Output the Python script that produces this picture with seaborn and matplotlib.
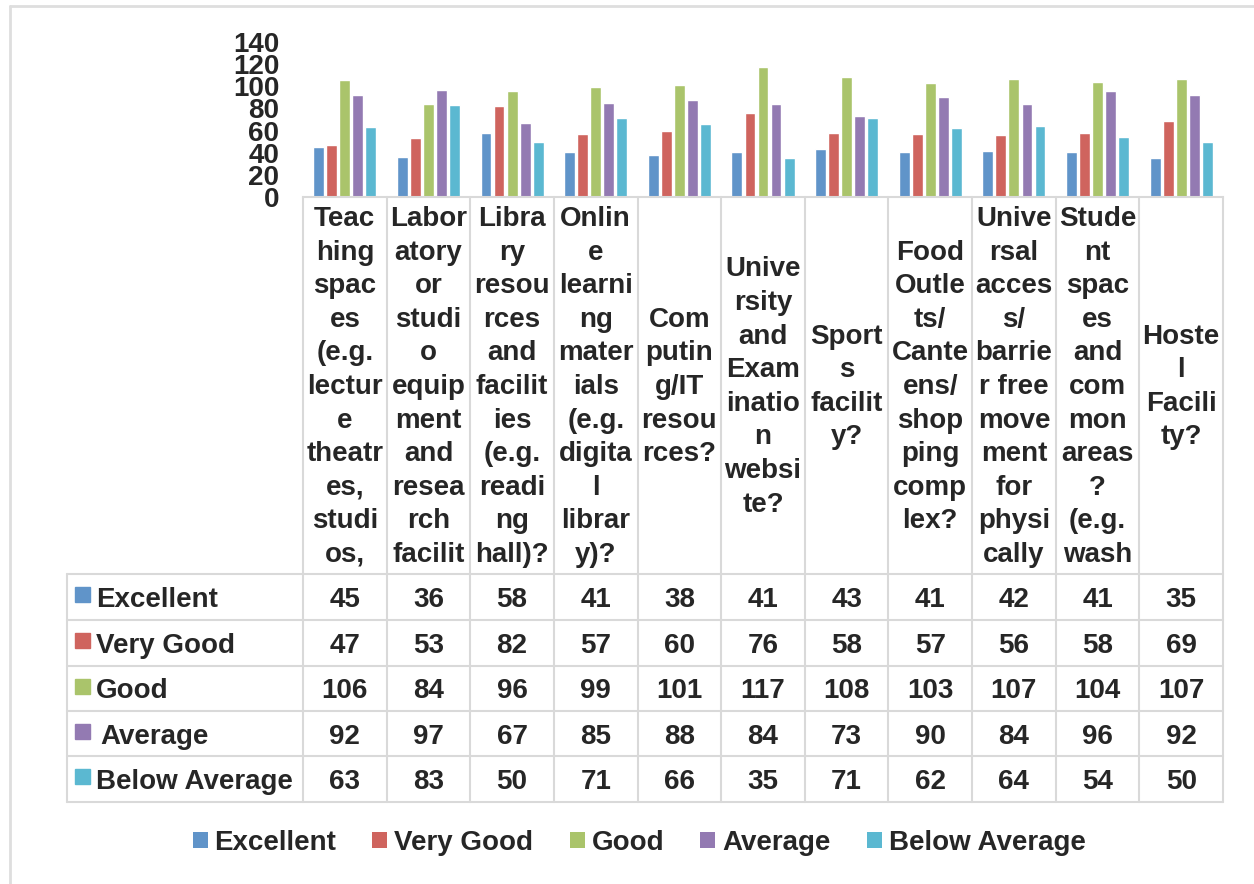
import matplotlib

matplotlib.use("Agg")
import matplotlib.pyplot as plt
import matplotlib.transforms as mtransforms
import pandas as pd
import seaborn as sns
from matplotlib.patches import Patch, Rectangle

# category labels, wrapped the way the spreadsheet wrapped them
facilities = [
    "Teac\nhing\nspac\nes\n(e.g.\nlectur\ne\ntheatr\nes,\nstudi\nos,",
    "Labor\natory\nor\nstudi\no\nequip\nment\nand\nresea\nrch\nfacilit",
    "Libra\nry\nresou\nrces\nand\nfacilit\nies\n(e.g.\nreadi\nng\nhall)?",
    "Onlin\ne\nlearni\nng\nmater\nials\n(e.g.\ndigita\nl\nlibrar\ny)?",
    "Com\nputin\ng/IT\nresou\nrces?",
    "Unive\nrsity\nand\nExam\ninatio\nn\nwebsi\nte?",
    "Sport\ns\nfacilit\ny?",
    "Food\nOutle\nts/\nCante\nens/\nshop\nping\ncomp\nlex?",
    "Unive\nrsal\nacces\ns/\nbarrie\nr free\nmove\nment\nfor\nphysi\ncally",
    "Stude\nnt\nspac\nes\nand\ncom\nmon\nareas\n?\n(e.g.\nwash",
    "Hoste\nl\nFacili\nty?",
]
ratings = ["Excellent", "Very Good", "Good", "Average", "Below Average"]
excellent = [45, 36, 58, 41, 38, 41, 43, 41, 42, 41, 35]
very_good = [47, 53, 82, 57, 60, 76, 58, 57, 56, 58, 69]
good = [106, 84, 96, 99, 101, 117, 108, 103, 107, 104, 107]
average = [92, 97, 67, 85, 88, 84, 73, 90, 84, 96, 92]
below_average = [63, 83, 50, 71, 66, 35, 71, 62, 64, 54, 50]
y_ticks = [0, 20, 40, 60, 80, 100, 120, 140]

colors = ["#6094c9", "#cf645e", "#aac46b", "#937ab2", "#5bb8d1"]
grid_color = "#d9d9d9"
fs = 20

series = [excellent, very_good, good, average, below_average]
df = pd.DataFrame(
    [
        {"facility": fac, "rating": rat, "count": vals[i]}
        for rat, vals in zip(ratings, series)
        for i, fac in enumerate(facilities)
    ]
)

sns.set_style("white")
plt.rcParams["font.family"] = ["Liberation Sans", "DejaVu Sans"]
plt.rcParams["font.weight"] = "bold"

W, H = 1254, 884
fig = plt.figure(figsize=(W / 100, H / 100), dpi=100)

# pixel-space background axes for the frame and the data table
bg = fig.add_axes([0, 0, 1, 1])
bg.set_xlim(0, W)
bg.set_ylim(H, 0)
bg.axis("off")

ax = fig.add_axes([303 / W, 1 - 197 / H, 920 / W, 155 / H])
ax.patch.set_alpha(0)
sns.barplot(
    data=df,
    x="facility",
    y="count",
    hue="rating",
    order=facilities,
    hue_order=ratings,
    palette=colors,
    width=0.78,
    gap=0.17,
    saturation=1,
    legend=False,
    ax=ax,
)
ax.set_xlim(-0.5, len(facilities) - 0.5)
ax.set_ylim(0, 140)
ax.set_yticks(y_ticks)
ax.set_xticks([])
ax.set_xlabel("")
ax.set_ylabel("")
ax.tick_params(axis="y", length=0, pad=17, labelsize=fs)
for side in ("left", "top", "right"):
    ax.spines[side].set_visible(False)
ax.spines["bottom"].set_color(grid_color)
ax.spines["bottom"].set_linewidth(1.5)

# x from the bar axes, y in figure pixels
tr = mtransforms.blended_transform_factory(ax.transData, bg.transData)

for i, lab in enumerate(facilities):
    bg.text(i, 387, lab, transform=tr, ha="center", va="center",
            multialignment="center", fontsize=fs, linespacing=1.38)

row_y = [574, 620, 666, 711, 756, 802]
for k in range(len(facilities) + 1):
    bg.plot([k - 0.5, k - 0.5], [197, 802], transform=tr, color=grid_color, lw=1.5)
for y in row_y:
    bg.plot([67, 1223], [y, y], color=grid_color, lw=1.5)
bg.plot([67, 67], [574, 802], color=grid_color, lw=1.5)

for r, (rat, vals, col) in enumerate(zip(ratings, series, colors)):
    yc = (row_y[r] + row_y[r + 1]) / 2
    bg.add_patch(Rectangle((75, yc - 10), 15, 15, color=col))
    bg.text(96 if rat != "Average" else 100, yc, rat, ha="left",
            va="center_baseline", fontsize=fs)
    for i, v in enumerate(vals):
        bg.text(i, yc, str(v), transform=tr, ha="center", va="center_baseline", fontsize=fs)

# outer chart frame
bg.plot([10, 10], [6, H], color="#dedede", lw=2)
bg.plot([10, W], [6, 6], color="#dedede", lw=2)

handles = [Patch(facecolor=c, edgecolor="none") for c in colors]
fig.legend(
    handles, ratings, loc="center", bbox_to_anchor=(639 / W, 1 - 843 / H),
    ncol=5, frameon=False, fontsize=fs, handlelength=0.54, handleheight=0.54,
    handletextpad=0.25, columnspacing=1.3,
)

fig.savefig("out.png", dpi=100)
plt.close(fig)
